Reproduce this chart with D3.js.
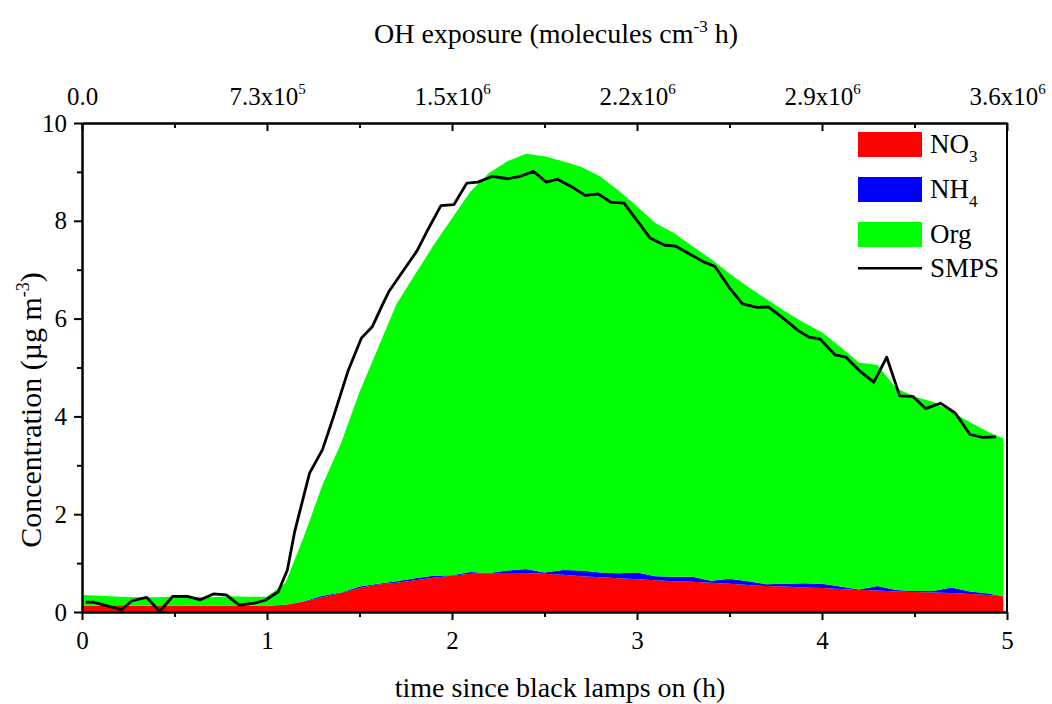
<!DOCTYPE html>
<html>
<head>
<meta charset="utf-8">
<script src="https://cdn.jsdelivr.net/npm/d3@7"></script>
<style>
  body { margin: 0; background: #fff; }
  text { font-family: "Liberation Serif", "Times New Roman", serif; fill: #000; }
</style>
</head>
<body>
<div id="chart"></div>
<script>
// AMS composition (stacked areas) and SMPS mass vs. time since lamps on

// AMS time base (h)
const amsHours = [0.0, 0.1, 0.2, 0.3, 0.4, 0.5, 0.6, 0.7, 0.8, 0.9,
    1.0, 1.1, 1.2, 1.3, 1.4, 1.5, 1.6, 1.7, 1.8, 1.9,
    2.0, 2.1, 2.2, 2.3, 2.4, 2.5, 2.6, 2.7, 2.8, 2.9,
    3.0, 3.1, 3.2, 3.3, 3.4, 3.5, 3.6, 3.7, 3.8, 3.9,
    4.0, 4.1, 4.2, 4.3, 4.4, 4.5, 4.6, 4.7, 4.8, 4.9, 4.98];

const no3 = [0.13, 0.13, 0.14, 0.13, 0.13, 0.13, 0.13, 0.13, 0.13, 0.13,
    0.13, 0.15, 0.21, 0.30, 0.39, 0.49, 0.56, 0.60, 0.65, 0.70,
    0.74, 0.78, 0.79, 0.80, 0.80, 0.78, 0.76, 0.73, 0.71, 0.69,
    0.67, 0.65, 0.63, 0.62, 0.60, 0.58, 0.55, 0.53, 0.52, 0.50,
    0.49, 0.47, 0.45, 0.44, 0.42, 0.41, 0.40, 0.39, 0.37, 0.35, 0.32];

const nh4 = [0, 0, 0, 0, 0, 0, 0, 0, 0, 0,
    0, 0, 0.01, 0.03, 0.01, 0.03, 0.02, 0.03, 0.04, 0.04,
    0.01, 0.04, 0.01, 0.05, 0.08, 0.03, 0.10, 0.12, 0.10, 0.10,
    0.14, 0.08, 0.09, 0.10, 0.04, 0.10, 0.08, 0.04, 0.06, 0.09,
    0.09, 0.05, 0.01, 0.09, 0.03, 0.02, 0.03, 0.11, 0.05, 0.03, 0.0];

const org = [0.22, 0.20, 0.17, 0.17, 0.17, 0.18, 0.18, 0.17, 0.19, 0.18,
    0.18, 0.45, 1.33, 2.27, 3.05, 3.98, 4.82, 5.67, 6.21, 6.76,
    7.30, 7.78, 8.18, 8.37, 8.49, 8.51, 8.36, 8.25, 8.10, 7.83,
    7.49, 7.22, 7.03, 6.76, 6.58, 6.24, 6.02, 5.83, 5.57, 5.33,
    5.14, 4.90, 4.64, 4.52, 4.13, 3.97, 3.87, 3.60, 3.46, 3.30, 3.23];

// SMPS mass concentration
const smpsHours = [0.02, 0.06, 0.215, 0.27, 0.35, 0.42, 0.49, 0.57, 0.64, 0.71,
    0.78, 0.85, 0.93, 0.99, 1.06, 1.11, 1.15, 1.23, 1.30, 1.36,
    1.44, 1.51, 1.57, 1.62, 1.66, 1.74, 1.81, 1.86, 1.94, 2.01,
    2.08, 2.14, 2.22, 2.30, 2.37, 2.44, 2.51, 2.57, 2.65, 2.72,
    2.79, 2.86, 2.93, 3.07, 3.15, 3.21, 3.36, 3.42, 3.50, 3.57,
    3.65, 3.71, 3.79, 3.87, 3.93, 3.99, 4.07, 4.13, 4.21, 4.28,
    4.35, 4.42, 4.49, 4.56, 4.64, 4.72, 4.80, 4.87, 4.94];

const smps = [0.20, 0.20, 0.05, 0.23, 0.30, 0.01, 0.32, 0.32, 0.25, 0.37,
    0.35, 0.14, 0.18, 0.24, 0.41, 0.86, 1.65, 2.84, 3.32, 4.00,
    4.95, 5.60, 5.84, 6.25, 6.56, 7.00, 7.38, 7.75, 8.31, 8.33,
    8.77, 8.79, 8.91, 8.86, 8.91, 9.01, 8.79, 8.85, 8.69, 8.52,
    8.55, 8.38, 8.36, 7.65, 7.50, 7.48, 7.16, 7.07, 6.63, 6.30,
    6.23, 6.24, 6.01, 5.76, 5.62, 5.58, 5.26, 5.21, 4.91, 4.70,
    5.21, 4.42, 4.41, 4.16, 4.27, 4.07, 3.63, 3.57, 3.58];

// axis ticks
const xTicks = [0, 1, 2, 3, 4, 5];
const xMinor = [0.5, 1.5, 2.5, 3.5, 4.5];
const yTicks = [0, 2, 4, 6, 8, 10];
const yMinor = [1, 3, 5, 7, 9];
const ohMantissa = ["0.0", "7.3x10", "1.5x10", "2.2x10", "2.9x10", "3.6x10"];
const ohExponent = ["", "5", "6", "6", "6", "6"];

const seriesKeys = ["NO3", "NH4", "Org"];
const seriesColors = ["#ff0000", "#0000ff", "#00ff00"];

// Set the dimensions and margins of the graph
const margin = { top: 123, right: 45, bottom: 92, left: 82 },
    width = 1052 - margin.left - margin.right,
    height = 704 - margin.top - margin.bottom;

const root = d3.select("#chart")
    .append("svg")
    .attr("width", 1052)
    .attr("height", 704);

const svg = root.append("g")
    .attr("transform", `translate(${margin.left},${margin.top})`);

const x = d3.scaleLinear().domain([0, 5]).range([0, width]);
const y = d3.scaleLinear().domain([0, 10]).range([height, 0]);

// stacked areas
const rows = amsHours.map((t, i) => ({ t: t, NO3: no3[i], NH4: nh4[i], Org: org[i] }));
const stacked = d3.stack().keys(seriesKeys)(rows);

const area = d3.area()
    .x(d => x(d.data.t))
    .y0(d => y(d[0]))
    .y1(d => y(d[1]));

svg.selectAll(".layer")
    .data(stacked)
    .enter().append("path")
    .attr("class", "layer")
    .attr("fill", (d, i) => seriesColors[i])
    .attr("d", area);

// SMPS line
const smpsData = smpsHours.map((t, i) => ({ t: t, v: smps[i] }));
svg.append("path")
    .datum(smpsData)
    .attr("fill", "none")
    .attr("stroke", "#000")
    .attr("stroke-width", 2.8)
    .attr("stroke-linejoin", "round")
    .attr("d", d3.line().x(d => x(d.t)).y(d => y(d.v)));

// axes
function styleAxis(g) {
    g.selectAll(".domain").attr("stroke", "#000").attr("stroke-width", 2);
    g.selectAll(".tick line").attr("stroke", "#000").attr("stroke-width", 2);
    g.selectAll("text").style("font-size", "25px")
        .style("font-family", "'Liberation Serif', 'Times New Roman', serif");
}

// bottom
svg.append("g")
    .attr("transform", `translate(0,${height})`)
    .call(d3.axisBottom(x).tickValues(xMinor).tickSize(5).tickSizeOuter(0).tickFormat(""))
    .call(styleAxis);
svg.append("g")
    .attr("transform", `translate(0,${height})`)
    .call(d3.axisBottom(x).tickValues(xTicks).tickSize(8).tickSizeOuter(0).tickPadding(11).tickFormat(d3.format("d")))
    .call(styleAxis);

// left
svg.append("g")
    .call(d3.axisLeft(y).tickValues(yMinor).tickSize(5).tickSizeOuter(0).tickFormat(""))
    .call(styleAxis);
svg.append("g")
    .call(d3.axisLeft(y).tickValues(yTicks).tickSize(8).tickSizeOuter(0).tickPadding(7).tickFormat(d3.format("d")))
    .call(styleAxis);

// top (OH exposure), ticks point inward
svg.append("g")
    .call(d3.axisTop(x).tickValues(xMinor).tickSize(-5).tickSizeOuter(0).tickFormat(""))
    .call(styleAxis);
const topAxis = svg.append("g")
    .call(d3.axisTop(x).tickValues(xTicks).tickSize(-8).tickSizeOuter(0).tickPadding(18).tickFormat(""))
    .call(styleAxis);

topAxis.selectAll(".tick text")
    .each(function (d, i) {
        const t = d3.select(this).style("font-size", "25px");
        t.append("tspan").text(ohMantissa[i]);
        if (ohExponent[i]) {
            t.append("tspan")
                .attr("dy", -11)
                .style("font-size", "15px")
                .text(ohExponent[i]);
        }
    });

// right
svg.append("line")
    .attr("x1", width).attr("x2", width)
    .attr("y1", 0).attr("y2", height)
    .attr("stroke", "#000")
    .attr("stroke-width", 2);

// axis titles
root.append("text")
    .attr("x", 560)
    .attr("y", 697)
    .attr("text-anchor", "middle")
    .style("font-size", "28px")
    .text("time since black lamps on (h)");

const topTitle = root.append("text")
    .attr("x", 556)
    .attr("y", 43)
    .attr("text-anchor", "middle")
    .style("font-size", "28px");
topTitle.append("tspan").text("OH exposure (molecules cm");
topTitle.append("tspan").attr("dy", -11).style("font-size", "17px").text("-3");
topTitle.append("tspan").attr("dy", 11).text(" h)");

const yTitle = root.append("text")
    .attr("transform", "translate(41,410) rotate(-90)")
    .attr("text-anchor", "middle")
    .style("font-size", "30px");
yTitle.append("tspan").text("Concentration (µg m");
yTitle.append("tspan").attr("dy", -12).style("font-size", "18px").text("-3");
yTitle.append("tspan").attr("dy", 12).text(")");

// legend
const legendLabels = [["NO", "3"], ["NH", "4"], ["Org", ""], ["SMPS", ""]];
const legendY = [144.5, 189.5, 234.5, 268.3];

const legend = root.append("g");
legendLabels.forEach((lab, i) => {
    if (i < 3) {
        legend.append("rect")
            .attr("x", 858)
            .attr("y", legendY[i] - 12.5)
            .attr("width", 64)
            .attr("height", 25)
            .attr("fill", seriesColors[i]);
    } else {
        legend.append("line")
            .attr("x1", 858).attr("x2", 922)
            .attr("y1", legendY[i]).attr("y2", legendY[i])
            .attr("stroke", "#000")
            .attr("stroke-width", 2.5);
    }
    const t = legend.append("text")
        .attr("x", 930)
        .attr("y", legendY[i] + 8.5)
        .style("font-size", "27px");
    t.append("tspan").text(lab[0]);
    if (lab[1]) {
        t.append("tspan").attr("dy", 9).style("font-size", "17px").text(lab[1]);
    }
});
</script>
</body>
</html>
